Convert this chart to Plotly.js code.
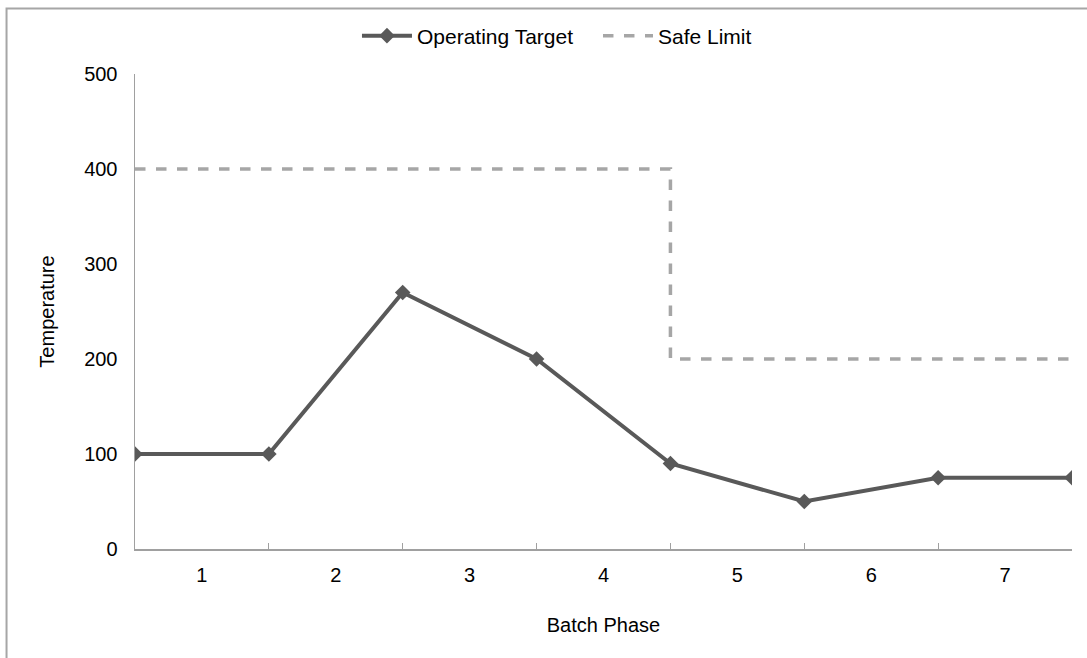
<!DOCTYPE html>
<html>
<head>
<meta charset="utf-8">
<script src="https://cdn.plot.ly/plotly-3.0.1.min.js"></script>
<style>html,body{margin:0;padding:0;background:#fff;}#chart{width:1087px;height:658px;}</style>
</head>
<body>
<div id="chart"></div>
<script>
// Category labels (phases) and their centre positions
const phaseLabels = ["1", "2", "3", "4", "5", "6", "7"];
const phaseCenters = [0.5, 1.5, 2.5, 3.5, 4.5, 5.5, 6.5];
const phaseBoundaries = [1, 2, 3, 4, 5, 6, 7];

// Operating Target: values at phase boundaries
const targetX = [0, 1, 2, 3, 4, 5, 6, 7];
const targetY = [100, 100, 270, 200, 90, 50, 75, 75];

// Safe Limit: step line
const limitX = [0, 4, 7];
const limitY = [400, 200, 200];

const font = "Arial, 'Liberation Sans', sans-serif";
const fs = 20;

const traces = [
  {
    x: targetX, y: targetY, name: "Operating Target", type: "scatter", mode: "lines+markers",
    line: {color: "#595959", width: 4},
    marker: {symbol: "diamond", size: 12, color: "#595959"}
  },
  {
    x: limitX, y: limitY, name: "Safe Limit", type: "scatter", mode: "lines",
    line: {color: "#a6a6a6", width: 3.5, dash: "dash", shape: "hv"}
  },
  {
    x: [0, 7], y: [null, null], xaxis: "x2", showlegend: false, hoverinfo: "skip", mode: "lines"
  }
];

const layout = {
  width: 1087, height: 658,
  margin: {l: 135, r: 15, t: 74, b: 109, autoexpand: false},
  paper_bgcolor: "#ffffff", plot_bgcolor: "#ffffff",
  font: {family: font, size: fs, color: "#000000"},
  showlegend: true,
  legend: {orientation: "h", x: 0.2369, xanchor: "left", y: 1.08, yanchor: "middle",
           bgcolor: "rgba(0,0,0,0)", entrywidth: 176,
           font: {family: font, size: 21, color: "#000"}, itemwidth: 50, traceorder: "normal"},
  xaxis: {
    range: [0, 7], tickvals: phaseCenters, ticktext: phaseLabels, ticks: "",
    showgrid: false, zeroline: false, showline: true, linecolor: "#a0a0a0", linewidth: 1.5,
    tickfont: {family: font, size: fs}, ticklabelstandoff: 7,
    title: {text: "Batch Phase", font: {family: font, size: fs}, standoff: 33},
    automargin: false
  },
  xaxis2: {
    range: [0, 7], overlaying: "x", side: "bottom", tickvals: phaseBoundaries,
    ticks: "inside", ticklen: 6, tickwidth: 1.2, tickcolor: "#a0a0a0",
    showticklabels: false, showgrid: false, zeroline: false, showline: false
  },
  yaxis: {
    range: [0, 500], dtick: 100, tick0: 0, ticks: "", showgrid: false, zeroline: false,
    showline: true, linecolor: "#a0a0a0", linewidth: 1.5,
    tickfont: {family: font, size: fs}, ticklabelstandoff: 12,
    title: {text: "Temperature", font: {family: font, size: fs}, standoff: 24},
    automargin: false
  },
  shapes: [
    {type: "rect", xref: "paper", yref: "paper", x0: -0.1371, x1: 1.2, y0: -0.5, y1: 1.1379,
     line: {color: "#a6a6a6", width: 2}, fillcolor: "rgba(0,0,0,0)", layer: "below"}
  ]
};

Plotly.newPlot("chart", traces, layout, {displayModeBar: false, staticPlot: true});
</script>
</body>
</html>
